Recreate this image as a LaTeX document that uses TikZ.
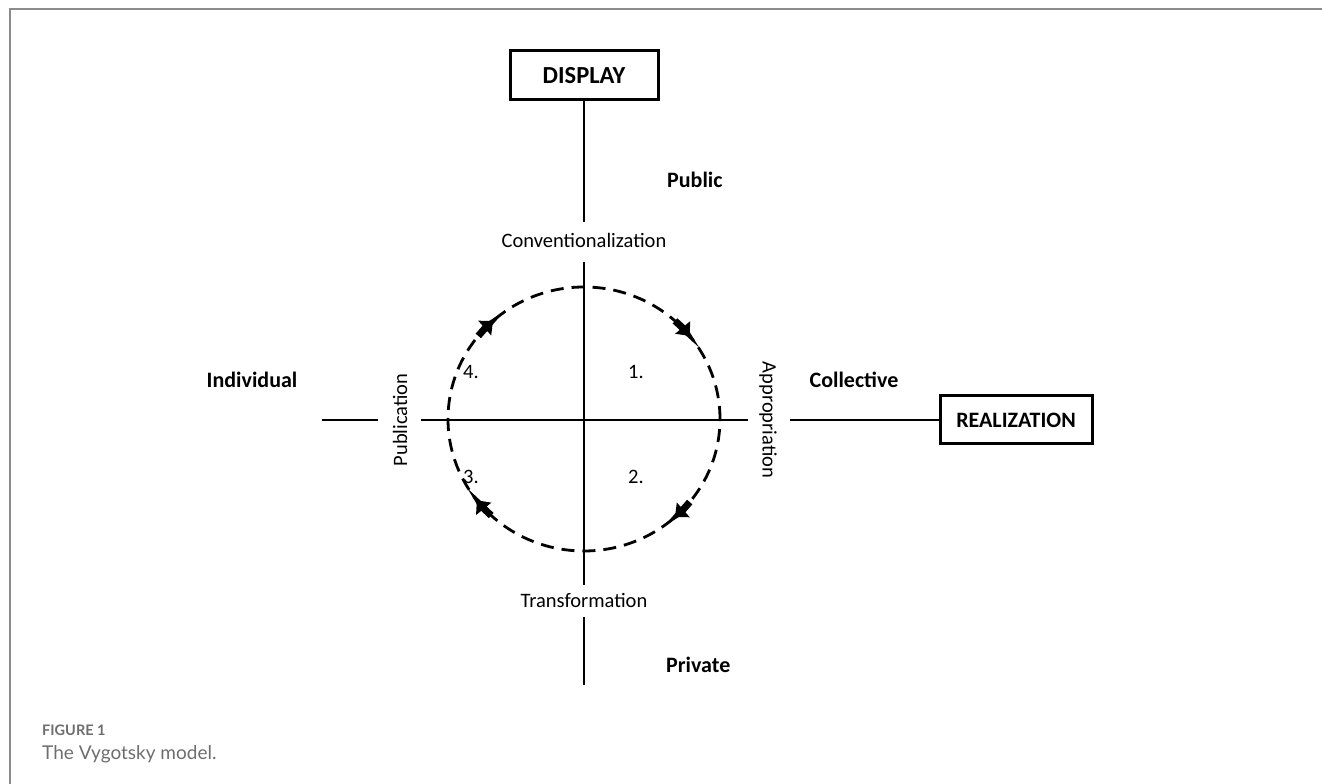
\documentclass[tikz,border=0pt]{standalone}
\usepackage{fontspec}
\setmainfont{Carlito}
\newfontfamily\capfont{Lato}
\usetikzlibrary{arrows.meta,calc}
\definecolor{framegray}{HTML}{8C8C8C}
\definecolor{capgray}{HTML}{6E6E6E}
\begin{document}
\begin{tikzpicture}[x=1pt,y=1pt,
  axis/.style={line width=2.7pt},
  bigbox/.style={draw,line width=3pt,minimum width=148pt,minimum height=49pt,inner sep=0pt,
    font=\fontsize{22}{26}\selectfont\bfseries},
  boldlab/.style={inner sep=0pt,font=\fontsize{22}{26}\selectfont\bfseries},
  thinlab/.style={inner sep=0pt,font=\fontsize{20.5}{24}\selectfont},
  cyclearc/.style={line width=2.8pt,dash pattern=on 13pt off 8pt},
  cyclearrow/.style={line width=7pt,-{Triangle[length=11pt,width=19pt]}}]
\useasboundingbox (0,0) rectangle (1322,784);
% frame
\draw[framegray,line width=2pt] (9.5,0) -- (9.5,774.5) -- (1322,774.5);
% boxes
\node[bigbox,font=\fontsize{24.5}{28}\selectfont\bfseries] (disp) at (584,708.5) {DISPLAY};
\node[bigbox,minimum width=152pt,minimum height=48pt] (real) at (1016,364) {REALIZATION};
% coordinates
\coordinate (c) at (584,365);
\coordinate (vA) at (584,562);
\coordinate (vB) at (584,522);
\coordinate (vC) at (584,199);
\coordinate (vD) at (584,167);
\coordinate (vE) at (584,99);
\coordinate (hA) at (322,364);
\coordinate (hB) at (378,364);
\coordinate (hC) at (421,364);
\coordinate (hD) at (748,364);
\coordinate (hE) at (790,364);
% axes
\draw[axis] (disp.south) -- (vA);
\draw[axis] (vB) -- (vC);
\draw[axis] (vD) -- (vE);
\draw[axis] (hA) -- (hB);
\draw[axis] (hC) -- (hD);
\draw[axis] (hE) -- (real.west);
% cycle
\draw[cyclearc] (c) ellipse[x radius=136,y radius=132];
\foreach \a in {42,135,221,315}{
  \draw[cyclearrow] ($(c)+({136*cos(\a+6)},{132*sin(\a+6)})$) arc[start angle=\a+6,end angle=\a-3,x radius=136,y radius=132];
}
% labels
\node[thinlab] (conv) at (584,544) {Conventionalization};
\node[thinlab] (trans) at (584,184) {Transformation};
\node[thinlab,rotate=90] (pub) at (400,364) {Publication};
\node[thinlab,rotate=-90] (appr) at (768,364) {Appropriation};
\node[boldlab,anchor=west] (public) at (667,604) {Public};
\node[boldlab,anchor=west] (private) at (666,119) {Private};
\node[boldlab] (indiv) at (252,404) {Individual};
\node[boldlab] (coll) at (854,404) {Collective};
\node[thinlab] (q4) at (471,412) {4.};
\node[thinlab] (q1) at (636,412) {1.};
\node[thinlab] (q3) at (471,307) {3.};
\node[thinlab] (q2) at (636,307) {2.};
% caption
\node[anchor=base west,inner sep=0pt,text=capgray,font=\capfont\fontsize{14.5}{16}\selectfont\bfseries] (figno) at (42,48) {FIGURE 1};
\node[anchor=base west,inner sep=0pt,text=capgray,font=\capfont\fontsize{19}{22}\selectfont] (figcap) at (42,24) {The Vygotsky model.};
\end{tikzpicture}
\end{document}
